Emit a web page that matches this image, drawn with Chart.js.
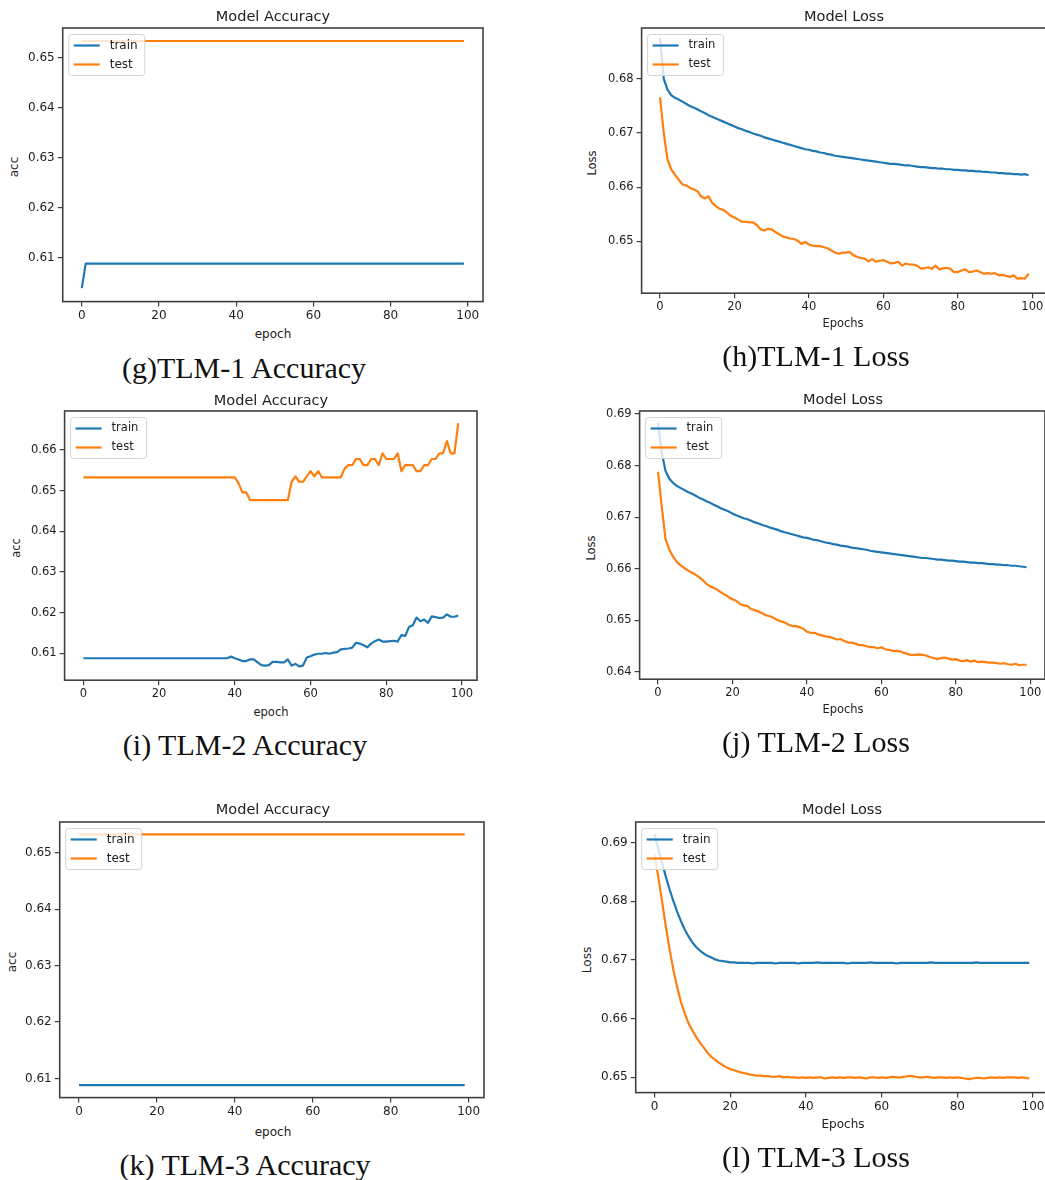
<!DOCTYPE html>
<html><head><meta charset="utf-8">
<script src="https://cdn.jsdelivr.net/npm/chart.js@4.4.1/dist/chart.umd.min.js"></script>
<style>
html,body{margin:0;padding:0;background:#fff;width:1045px;height:1180px;overflow:hidden;position:relative}
canvas{position:absolute}
.t{position:absolute;font-family:"DejaVu Sans";color:#222;white-space:nowrap;transform:translate(-50%,-50%);line-height:1}
.yl{transform:translate(-50%,-50%) rotate(-90deg)}
.cap{position:absolute;font-family:"Liberation Serif";color:#111;white-space:nowrap;transform:translate(-50%,-50%);font-size:30px;line-height:1}
</style></head><body>
<script>
// ---------- data ----------
const epochs=[0,1,2,3,4,5,6,7,8,9,10,11,12,13,14,15,16,17,18,19,20,21,22,23,24,25,26,27,28,29,30,31,32,33,34,35,36,37,38,39,40,41,42,43,44,45,46,47,48,49,50,51,52,53,54,55,56,57,58,59,60,61,62,63,64,65,66,67,68,69,70,71,72,73,74,75,76,77,78,79,80,81,82,83,84,85,86,87,88,89,90,91,92,93,94,95,96,97,98,99];
const xTickLabels=[0,20,40,60,80,100];
const accTicks5=[0.61,0.62,0.63,0.64,0.65];
const accTicks6=[0.61,0.62,0.63,0.64,0.65,0.66];
const lossTicksH=[0.65,0.66,0.67,0.68];
const lossTicksJ=[0.64,0.65,0.66,0.67,0.68,0.69];
const lossTicksL=[0.65,0.66,0.67,0.68,0.69];
const seriesNames=['train','test'];

// (g) TLM-1 accuracy
const trainAccG=[
0.6039,0.6088,0.6088,0.6088,0.6088,0.6088,0.6088,0.6088,0.6088,0.6088,
0.6088,0.6088,0.6088,0.6088,0.6088,0.6088,0.6088,0.6088,0.6088,0.6088,
0.6088,0.6088,0.6088,0.6088,0.6088,0.6088,0.6088,0.6088,0.6088,0.6088,
0.6088,0.6088,0.6088,0.6088,0.6088,0.6088,0.6088,0.6088,0.6088,0.6088,
0.6088,0.6088,0.6088,0.6088,0.6088,0.6088,0.6088,0.6088,0.6088,0.6088,
0.6088,0.6088,0.6088,0.6088,0.6088,0.6088,0.6088,0.6088,0.6088,0.6088,
0.6088,0.6088,0.6088,0.6088,0.6088,0.6088,0.6088,0.6088,0.6088,0.6088,
0.6088,0.6088,0.6088,0.6088,0.6088,0.6088,0.6088,0.6088,0.6088,0.6088,
0.6088,0.6088,0.6088,0.6088,0.6088,0.6088,0.6088,0.6088,0.6088,0.6088,
0.6088,0.6088,0.6088,0.6088,0.6088,0.6088,0.6088,0.6088,0.6088,0.6088];
const testAccG=[
0.6534,0.6534,0.6534,0.6534,0.6534,0.6534,0.6534,0.6534,0.6534,0.6534,
0.6534,0.6534,0.6534,0.6534,0.6534,0.6534,0.6534,0.6534,0.6534,0.6534,
0.6534,0.6534,0.6534,0.6534,0.6534,0.6534,0.6534,0.6534,0.6534,0.6534,
0.6534,0.6534,0.6534,0.6534,0.6534,0.6534,0.6534,0.6534,0.6534,0.6534,
0.6534,0.6534,0.6534,0.6534,0.6534,0.6534,0.6534,0.6534,0.6534,0.6534,
0.6534,0.6534,0.6534,0.6534,0.6534,0.6534,0.6534,0.6534,0.6534,0.6534,
0.6534,0.6534,0.6534,0.6534,0.6534,0.6534,0.6534,0.6534,0.6534,0.6534,
0.6534,0.6534,0.6534,0.6534,0.6534,0.6534,0.6534,0.6534,0.6534,0.6534,
0.6534,0.6534,0.6534,0.6534,0.6534,0.6534,0.6534,0.6534,0.6534,0.6534,
0.6534,0.6534,0.6534,0.6534,0.6534,0.6534,0.6534,0.6534,0.6534,0.6534];

// (h) TLM-1 loss
const trainLossH=[
0.6875,0.6800,0.6780,0.6770,0.6765,0.6762,0.6758,0.6754,0.6750,0.6747,
0.6744,0.6740,0.6737,0.6733,0.6730,0.6727,0.6724,0.6721,0.6718,0.6715,
0.6712,0.6709,0.6707,0.6704,0.6702,0.6699,0.6697,0.6695,0.6692,0.6690,
0.6688,0.6686,0.6684,0.6682,0.6680,0.6678,0.6676,0.6674,0.6672,0.6670,
0.6669,0.6667,0.6666,0.6664,0.6663,0.6661,0.6660,0.6658,0.6657,0.6656,
0.6655,0.6654,0.6653,0.6652,0.6651,0.6650,0.6649,0.6648,0.6647,0.6646,
0.6645,0.6644,0.6643,0.6643,0.6642,0.6641,0.6640,0.6640,0.6639,0.6638,
0.6637,0.6637,0.6636,0.6635,0.6635,0.6634,0.6634,0.6633,0.6633,0.6632,
0.6632,0.6631,0.6631,0.6630,0.6630,0.6629,0.6629,0.6628,0.6628,0.6627,
0.6627,0.6626,0.6626,0.6625,0.6625,0.6624,0.6624,0.6623,0.6624,0.6622];
const testLossH=[
0.6766,0.6700,0.6651,0.6633,0.6623,0.6614,0.6605,0.6603,0.6599,0.6596,
0.6593,0.6583,0.6579,0.6583,0.6571,0.6565,0.6560,0.6558,0.6553,0.6547,
0.6544,0.6540,0.6536,0.6536,0.6535,0.6535,0.6530,0.6522,0.6520,0.6523,
0.6522,0.6517,0.6513,0.6509,0.6507,0.6505,0.6504,0.6501,0.6495,0.6499,
0.6494,0.6492,0.6491,0.6491,0.6489,0.6487,0.6483,0.6479,0.6477,0.6479,
0.6479,0.6480,0.6474,0.6471,0.6469,0.6468,0.6463,0.6467,0.6462,0.6464,
0.6465,0.6462,0.6459,0.6460,0.6462,0.6455,0.6459,0.6457,0.6457,0.6455,
0.6450,0.6450,0.6452,0.6449,0.6455,0.6448,0.6450,0.6451,0.6449,0.6443,
0.6443,0.6446,0.6448,0.6443,0.6444,0.6446,0.6443,0.6440,0.6441,0.6440,
0.6441,0.6437,0.6438,0.6436,0.6434,0.6437,0.6431,0.6432,0.6431,0.6440];

// (i) TLM-2 accuracy
const trainAccI=[
0.6088,0.6088,0.6088,0.6088,0.6088,0.6088,0.6088,0.6088,0.6088,0.6088,
0.6088,0.6088,0.6088,0.6088,0.6088,0.6088,0.6088,0.6088,0.6088,0.6088,
0.6088,0.6088,0.6088,0.6088,0.6088,0.6088,0.6088,0.6088,0.6088,0.6088,
0.6088,0.6088,0.6088,0.6088,0.6088,0.6088,0.6088,0.6088,0.6088,0.6092,
0.6088,0.6085,0.6081,0.6081,0.6085,0.6085,0.6078,0.6071,0.6070,0.6071,
0.6079,0.6079,0.6078,0.6078,0.6085,0.6070,0.6074,0.6068,0.6070,0.6090,
0.6093,0.6097,0.6099,0.6099,0.6101,0.6099,0.6102,0.6103,0.6110,0.6111,
0.6112,0.6114,0.6126,0.6124,0.6120,0.6115,0.6124,0.6130,0.6134,0.6129,
0.6129,0.6130,0.6131,0.6129,0.6145,0.6143,0.6165,0.6169,0.6188,0.6179,
0.6183,0.6175,0.6191,0.6189,0.6187,0.6188,0.6196,0.6190,0.6190,0.6193];
const testAccI=[
0.6533,0.6533,0.6533,0.6533,0.6533,0.6533,0.6533,0.6533,0.6533,0.6533,
0.6533,0.6533,0.6533,0.6533,0.6533,0.6533,0.6533,0.6533,0.6533,0.6533,
0.6533,0.6533,0.6533,0.6533,0.6533,0.6533,0.6533,0.6533,0.6533,0.6533,
0.6533,0.6533,0.6533,0.6533,0.6533,0.6533,0.6533,0.6533,0.6533,0.6533,
0.6533,0.6518,0.6496,0.6496,0.6477,0.6477,0.6477,0.6477,0.6477,0.6477,
0.6477,0.6477,0.6477,0.6477,0.6477,0.6522,0.6535,0.6522,0.6522,0.6535,
0.6548,0.6535,0.6548,0.6533,0.6533,0.6533,0.6533,0.6533,0.6533,0.6555,
0.6563,0.6563,0.6578,0.6578,0.6563,0.6563,0.6578,0.6578,0.6563,0.6592,
0.6578,0.6578,0.6578,0.6592,0.6548,0.6563,0.6563,0.6563,0.6548,0.6548,
0.6563,0.6563,0.6578,0.6578,0.6592,0.6592,0.6622,0.6592,0.6592,0.6666];

// (j) TLM-2 loss
const trainLossJ=[
0.6883,0.6825,0.6790,0.6775,0.6767,0.6761,0.6757,0.6753,0.6749,0.6746,
0.6742,0.6738,0.6735,0.6731,0.6728,0.6724,0.6721,0.6717,0.6714,0.6711,
0.6707,0.6704,0.6701,0.6698,0.6696,0.6693,0.6690,0.6688,0.6685,0.6683,
0.6680,0.6678,0.6676,0.6673,0.6671,0.6669,0.6667,0.6665,0.6663,0.6661,
0.6660,0.6658,0.6656,0.6655,0.6653,0.6651,0.6650,0.6648,0.6647,0.6645,
0.6644,0.6643,0.6641,0.6640,0.6639,0.6638,0.6637,0.6635,0.6634,0.6633,
0.6632,0.6631,0.6630,0.6629,0.6628,0.6627,0.6626,0.6625,0.6624,0.6623,
0.6622,0.6621,0.6621,0.6620,0.6619,0.6618,0.6618,0.6617,0.6616,0.6616,
0.6615,0.6614,0.6614,0.6613,0.6612,0.6612,0.6611,0.6611,0.6610,0.6609,
0.6609,0.6608,0.6608,0.6607,0.6607,0.6606,0.6606,0.6605,0.6604,0.6603];
const testLossJ=[
0.6788,0.6720,0.6658,0.6638,0.6624,0.6614,0.6607,0.6602,0.6597,0.6593,
0.6589,0.6584,0.6578,0.6571,0.6566,0.6563,0.6559,0.6554,0.6550,0.6545,
0.6541,0.6538,0.6532,0.6529,0.6528,0.6522,0.6520,0.6517,0.6514,0.6510,
0.6508,0.6505,0.6501,0.6498,0.6496,0.6492,0.6489,0.6489,0.6487,0.6484,
0.6478,0.6476,0.6476,0.6473,0.6471,0.6469,0.6468,0.6466,0.6463,0.6464,
0.6460,0.6457,0.6457,0.6455,0.6452,0.6452,0.6450,0.6448,0.6448,0.6446,
0.6448,0.6444,0.6443,0.6441,0.6441,0.6440,0.6437,0.6435,0.6433,0.6433,
0.6434,0.6433,0.6432,0.6429,0.6427,0.6425,0.6427,0.6428,0.6426,0.6424,
0.6425,0.6422,0.6421,0.6423,0.6420,0.6422,0.6419,0.6420,0.6419,0.6418,
0.6418,0.6417,0.6416,0.6417,0.6415,0.6414,0.6416,0.6413,0.6414,0.6414];

// (k) TLM-3 accuracy
const trainAccK=[
0.6088,0.6088,0.6088,0.6088,0.6088,0.6088,0.6088,0.6088,0.6088,0.6088,
0.6088,0.6088,0.6088,0.6088,0.6088,0.6088,0.6088,0.6088,0.6088,0.6088,
0.6088,0.6088,0.6088,0.6088,0.6088,0.6088,0.6088,0.6088,0.6088,0.6088,
0.6088,0.6088,0.6088,0.6088,0.6088,0.6088,0.6088,0.6088,0.6088,0.6088,
0.6088,0.6088,0.6088,0.6088,0.6088,0.6088,0.6088,0.6088,0.6088,0.6088,
0.6088,0.6088,0.6088,0.6088,0.6088,0.6088,0.6088,0.6088,0.6088,0.6088,
0.6088,0.6088,0.6088,0.6088,0.6088,0.6088,0.6088,0.6088,0.6088,0.6088,
0.6088,0.6088,0.6088,0.6088,0.6088,0.6088,0.6088,0.6088,0.6088,0.6088,
0.6088,0.6088,0.6088,0.6088,0.6088,0.6088,0.6088,0.6088,0.6088,0.6088,
0.6088,0.6088,0.6088,0.6088,0.6088,0.6088,0.6088,0.6088,0.6088,0.6088];
const testAccK=[
0.6533,0.6533,0.6533,0.6533,0.6533,0.6533,0.6533,0.6533,0.6533,0.6533,
0.6533,0.6533,0.6533,0.6533,0.6533,0.6533,0.6533,0.6533,0.6533,0.6533,
0.6533,0.6533,0.6533,0.6533,0.6533,0.6533,0.6533,0.6533,0.6533,0.6533,
0.6533,0.6533,0.6533,0.6533,0.6533,0.6533,0.6533,0.6533,0.6533,0.6533,
0.6533,0.6533,0.6533,0.6533,0.6533,0.6533,0.6533,0.6533,0.6533,0.6533,
0.6533,0.6533,0.6533,0.6533,0.6533,0.6533,0.6533,0.6533,0.6533,0.6533,
0.6533,0.6533,0.6533,0.6533,0.6533,0.6533,0.6533,0.6533,0.6533,0.6533,
0.6533,0.6533,0.6533,0.6533,0.6533,0.6533,0.6533,0.6533,0.6533,0.6533,
0.6533,0.6533,0.6533,0.6533,0.6533,0.6533,0.6533,0.6533,0.6533,0.6533,
0.6533,0.6533,0.6533,0.6533,0.6533,0.6533,0.6533,0.6533,0.6533,0.6533];

// (l) TLM-3 loss
const trainLossL=[
0.6914,0.6890,0.6866,0.6842,0.6820,0.6800,0.6782,0.6766,0.6752,0.6740,
0.6730,0.6722,0.6716,0.6711,0.6707,0.6704,0.6701,0.6699,0.6698,0.6697,
0.6696,0.6696,0.6695,0.6695,0.6695,0.6695,0.6694,0.6695,0.6695,0.6695,
0.6695,0.6695,0.6694,0.6695,0.6695,0.6695,0.6695,0.6695,0.6694,0.6695,
0.6695,0.6695,0.6695,0.6696,0.6695,0.6695,0.6695,0.6695,0.6695,0.6695,
0.6695,0.6694,0.6695,0.6695,0.6695,0.6695,0.6695,0.6696,0.6695,0.6695,
0.6695,0.6695,0.6695,0.6695,0.6694,0.6695,0.6695,0.6695,0.6695,0.6695,
0.6695,0.6695,0.6695,0.6696,0.6695,0.6695,0.6695,0.6695,0.6695,0.6695,
0.6695,0.6695,0.6695,0.6695,0.6695,0.6696,0.6695,0.6695,0.6695,0.6695,
0.6695,0.6695,0.6695,0.6695,0.6695,0.6695,0.6695,0.6695,0.6695,0.6695];
const testLossL=[
0.6880,0.6842,0.6800,0.6757,0.6718,0.6683,0.6654,0.6628,0.6609,0.6592,
0.6580,0.6569,0.6559,0.6551,0.6542,0.6535,0.6530,0.6525,0.6521,0.6517,
0.6514,0.6512,0.6510,0.6508,0.6507,0.6505,0.6504,0.6503,0.6503,0.6502,
0.6502,0.6501,0.6501,0.6502,0.6500,0.6501,0.6500,0.6500,0.6499,0.6500,
0.6499,0.6500,0.6499,0.6500,0.6500,0.6498,0.6499,0.6500,0.6499,0.6500,
0.6499,0.6500,0.6500,0.6499,0.6500,0.6499,0.6498,0.6500,0.6500,0.6499,
0.6500,0.6499,0.6500,0.6501,0.6500,0.6500,0.6501,0.6502,0.6502,0.6501,
0.6500,0.6500,0.6501,0.6500,0.6499,0.6500,0.6500,0.6499,0.6500,0.6499,
0.6500,0.6499,0.6498,0.6497,0.6498,0.6499,0.6499,0.6498,0.6499,0.6500,
0.6499,0.6500,0.6499,0.6500,0.6500,0.6500,0.6499,0.6500,0.6499,0.6498];

// ---------- layout / style ----------
const BLUE='#1f77b4', ORANGE='#ff7f0e', INK='#1e1e1e';
Chart.defaults.font.family='"DejaVu Sans"';

const panels=[
 {box:[63,28,483,302], y:[0.6012,0.6560], yt:accTicks5, tr:trainAccG, te:testAccG, fs:12,
  title:['Model Accuracy',273,16], xl:['epoch',273,334], yl:['acc',14,167], cap:['(g)TLM-1 Accuracy',244,368]},
 {box:[642,28,1047,293], y:[0.6404,0.6894], yt:lossTicksH, tr:trainLossH, te:testLossH, fs:11.5,
  title:['Model Loss',844,16], xl:['Epochs',843,324], yl:['Loss',593,163], cap:['(h)TLM-1 Loss',816,356]},
 {box:[64.5,411,476.5,680], y:[0.6034,0.6696], yt:accTicks6, tr:trainAccI, te:testAccI, fs:11.5,
  title:['Model Accuracy',271,400], xl:['epoch',271,713], yl:['acc',17,548], cap:['(i) TLM-2 Accuracy',245,745]},
 {box:[640,411,1045,679], y:[0.6386,0.6906], yt:lossTicksJ, tr:trainLossJ, te:testLossJ, fs:11.5,
  title:['Model Loss',843,399], xl:['Epochs',843,710], yl:['Loss',592,548], cap:['(j) TLM-2 Loss',816,742]},
 {box:[60,822,484.5,1098], y:[0.6066,0.6555], yt:accTicks5, tr:trainAccK, te:testAccK, fs:12,
  title:['Model Accuracy',273,809], xl:['epoch',273,1132], yl:['acc',12,962], cap:['(k) TLM-3 Accuracy',245,1165]},
 {box:[635.5,822,1048,1093], y:[0.6474,0.6935], yt:lossTicksL, tr:trainLossL, te:testLossL, fs:12,
  title:['Model Loss',842,809], xl:['Epochs',843,1124], yl:['Loss',587,960], cap:['(l) TLM-3 Loss',816,1157]}
];

const framePlugin={id:'frame',afterDatasetsDraw(chart){
  const a=chart.chartArea,ctx=chart.ctx;
  ctx.save();ctx.strokeStyle='#404040';ctx.lineWidth=1.6;
  ctx.strokeRect(a.left,a.top,a.right-a.left,a.bottom-a.top);ctx.restore();
}};
const legendPlugin={id:'inlegend',afterDatasetsDraw(chart,args,o){
  const a=chart.chartArea,ctx=chart.ctx;
  const x=a.left+6,y=a.top+6.5,w=76,h=41,r=3;
  ctx.save();
  ctx.beginPath();
  ctx.moveTo(x+r,y);ctx.lineTo(x+w-r,y);ctx.quadraticCurveTo(x+w,y,x+w,y+r);
  ctx.lineTo(x+w,y+h-r);ctx.quadraticCurveTo(x+w,y+h,x+w-r,y+h);
  ctx.lineTo(x+r,y+h);ctx.quadraticCurveTo(x,y+h,x,y+h-r);
  ctx.lineTo(x,y+r);ctx.quadraticCurveTo(x,y,x+r,y);ctx.closePath();
  ctx.fillStyle='rgba(255,255,255,0.8)';ctx.fill();
  ctx.strokeStyle='#d4d4d4';ctx.lineWidth=1;ctx.stroke();
  chart.data.datasets.forEach((ds,i)=>{
    const yy=y+11+i*19;
    ctx.strokeStyle=ds.borderColor;ctx.lineWidth=2.2;
    ctx.beginPath();ctx.moveTo(x+5,yy);ctx.lineTo(x+31,yy);ctx.stroke();
    ctx.fillStyle=INK;ctx.font=o.fs+'px "DejaVu Sans"';ctx.textBaseline='middle';ctx.textAlign='left';
    ctx.fillText(ds.label,x+41,yy);
  });
  ctx.restore();
}};

function config(p){
  const mk=(arr)=>arr.map((v,i)=>({x:epochs[i],y:v}));
  return {type:'line',
    data:{datasets:[
      {label:seriesNames[0],data:mk(p.tr),borderColor:BLUE,borderWidth:2.2,pointRadius:0,tension:0,fill:false,borderJoinStyle:'round'},
      {label:seriesNames[1],data:mk(p.te),borderColor:ORANGE,borderWidth:2.2,pointRadius:0,tension:0,fill:false,borderJoinStyle:'round'}]},
    options:{responsive:false,maintainAspectRatio:false,animation:false,
      layout:{padding:{top:16,right:16,left:2,bottom:2}},
      plugins:{legend:{display:false},tooltip:{enabled:false},title:{display:false},inlegend:{fs:p.fs}},
      scales:{
        x:{type:'linear',min:-4.95,max:103.95,
          afterBuildTicks:s=>{s.ticks=xTickLabels.map(v=>({value:v}));},
          ticks:{callback:v=>String(v),color:INK,font:{size:p.fs},padding:2,maxRotation:0,autoSkip:false},
          grid:{drawOnChartArea:false,drawTicks:true,tickLength:5,tickColor:'#404040',lineWidth:1.2},
          border:{display:false}},
        y:{type:'linear',min:p.y[0],max:p.y[1],
          afterBuildTicks:s=>{s.ticks=p.yt.map(v=>({value:v}));},
          ticks:{callback:v=>Number(v).toFixed(2),color:INK,font:{size:p.fs},padding:3,autoSkip:false},
          grid:{drawOnChartArea:false,drawTicks:true,tickLength:5,tickColor:'#404040',lineWidth:1.2},
          border:{display:false}}
      }},
    plugins:[framePlugin,legendPlugin]};
}

function addText(cls,txt,x,y,size){
  const d=document.createElement('div');d.className=cls;d.textContent=txt;
  d.style.left=x+'px';d.style.top=y+'px';if(size)d.style.fontSize=size+'px';
  document.body.appendChild(d);
}

panels.forEach(p=>{
  const bw=p.box[2]-p.box[0], bh=p.box[3]-p.box[1];
  const c1=document.createElement('canvas');c1.width=Math.round(bw+120);c1.height=Math.round(bh+80);
  document.body.appendChild(c1);
  const ch1=new Chart(c1,config(p));
  const a=ch1.chartArea;
  const offL=a.left,offT=a.top,offR=c1.width-a.right,offB=c1.height-a.bottom;
  ch1.destroy();c1.remove();
  const c=document.createElement('canvas');
  c.width=Math.round(bw+offL+offR);c.height=Math.round(bh+offT+offB);
  document.body.appendChild(c);
  const ch=new Chart(c,config(p));
  const a2=ch.chartArea;
  c.style.left=(p.box[0]-a2.left)+'px';c.style.top=(p.box[1]-a2.top)+'px';
  addText('t',p.title[0],p.title[1],p.title[2],14.5);
  addText('t',p.xl[0],p.xl[1],p.xl[2],p.fs);
  addText('t yl',p.yl[0],p.yl[1],p.yl[2],p.fs);
  addText('cap',p.cap[0],p.cap[1],p.cap[2]);
});
</script>
</body></html>
